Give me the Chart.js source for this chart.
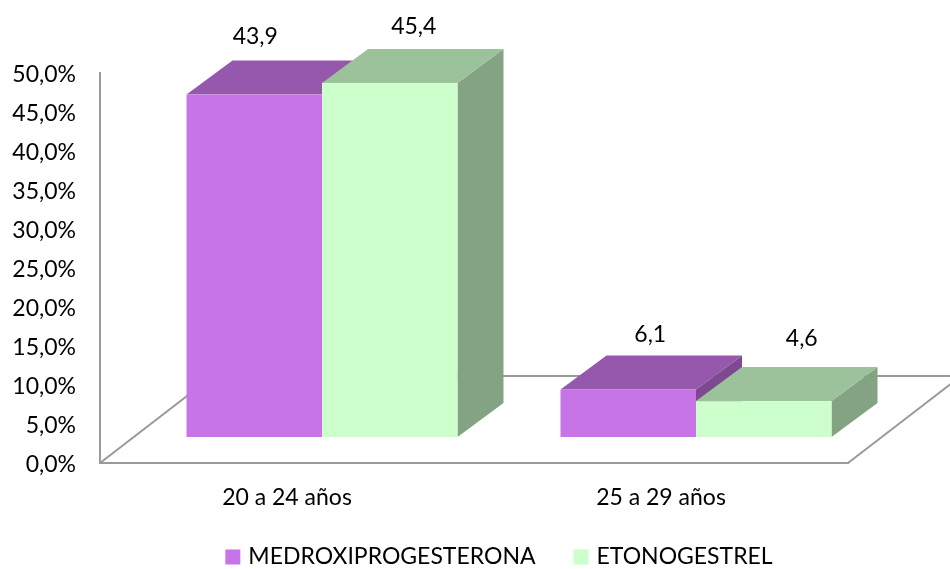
<!DOCTYPE html>
<html>
<head>
<meta charset="utf-8">
<script src="https://cdn.jsdelivr.net/npm/chart.js@4.4.1/dist/chart.umd.min.js"></script>
<style>
  html, body { margin: 0; padding: 0; background: #ffffff; }
  #wrap { width: 950px; height: 569px; }
</style>
</head>
<body>
<div id="wrap"><canvas id="chart" width="950" height="569"></canvas></div>
<script>
// Age groups and share (%) of users of each contraceptive
const categories = ['20 a 24 años', '25 a 29 años'];
const medroxiprogesterona = [43.9, 6.1];
const etonogestrel = [45.4, 4.6];
const seriesNames = ['MEDROXIPROGESTERONA', 'ETONOGESTREL'];
const yTicks = { min: 0, max: 50, step: 5 };

const FONT = 'Lato, "Open Sans", sans-serif';
const FONT_SIZE = 23;
const fmt1 = v => v.toFixed(1).replace('.', ',');

// Face colours for the boxes: front, top, side
const faces = [
  { front: '#C775E6', top: '#9558AD', side: '#7D4991' },
  { front: '#CCFFCC', top: '#9BC29B', side: '#83A383' }
];

// Draws the floor and the bars as oblique 3D boxes from the bar elements
const box3d = {
  id: 'box3d',
  beforeDatasetsDraw(chart, args, opts) {
    const { ctx, chartArea: a } = chart;
    const fd = opts.floorDepth, sh = opts.barShift, d = opts.depth;

    ctx.save();
    ctx.strokeStyle = opts.lineColor;
    ctx.lineWidth = 2;
    ctx.beginPath();
    ctx.moveTo(a.left, a.bottom);
    ctx.lineTo(a.left + fd.dx, a.bottom + fd.dy);
    ctx.lineTo(a.right + fd.dx, a.bottom + fd.dy);
    ctx.moveTo(a.right, a.bottom);
    ctx.lineTo(a.right + fd.dx, a.bottom + fd.dy);
    ctx.stroke();

    const n = chart.data.labels.length;
    for (let i = 0; i < n; i++) {
      chart.data.datasets.forEach((ds, di) => {
        const el = chart.getDatasetMeta(di).data[i];
        const c = faces[di];
        const l = el.x - el.width / 2 + sh.dx;
        const r = el.x + el.width / 2 + sh.dx;
        const t = el.y + sh.dy;
        const b = el.base + sh.dy;
        // side
        ctx.fillStyle = c.side;
        ctx.beginPath();
        ctx.moveTo(r, t); ctx.lineTo(r + d.dx, t + d.dy);
        ctx.lineTo(r + d.dx, b + d.dy); ctx.lineTo(r, b);
        ctx.closePath(); ctx.fill();
        // top
        ctx.fillStyle = c.top;
        ctx.beginPath();
        ctx.moveTo(l, t); ctx.lineTo(l + d.dx, t + d.dy);
        ctx.lineTo(r + d.dx, t + d.dy); ctx.lineTo(r, t);
        ctx.closePath(); ctx.fill();
        // front
        ctx.fillStyle = c.front;
        ctx.fillRect(l, t, r - l, b - t);
      });
    }
    ctx.restore();
    return false;
  },
  afterDraw(chart, args, opts) {
    const { ctx } = chart;
    const sh = opts.barShift, d = opts.depth;
    ctx.save();
    ctx.font = FONT_SIZE + 'px ' + FONT;
    ctx.fillStyle = '#000000';
    ctx.textAlign = 'center';
    ctx.textBaseline = 'middle';
    // value labels above each box
    chart.data.datasets.forEach((ds, di) => {
      chart.getDatasetMeta(di).data.forEach((el, i) => {
        const nd = opts.nudges[di][i];
        const x = el.x + sh.dx + d.dx / 2 + nd[0];
        const y = el.y + sh.dy + d.dy - 21 + nd[1];
        ctx.fillText(fmt1(ds.data[i]), x, y);
      });
    });
    // legend
    const lg = opts.legend;
    ctx.textAlign = 'left';
    const widths = chart.data.datasets.map(ds => ctx.measureText(ds.label).width);
    const total = widths.reduce((s, w) => s + lg.box + lg.gap + w, 0) + lg.spacing * (widths.length - 1);
    let x = lg.centerX - total / 2;
    chart.data.datasets.forEach((ds, di) => {
      ctx.fillStyle = faces[di].front;
      ctx.fillRect(x, lg.y - lg.box / 2, lg.box, lg.box);
      ctx.fillStyle = '#000000';
      ctx.fillText(ds.label, x + lg.box + lg.gap, lg.y);
      x += lg.box + lg.gap + widths[di] + lg.spacing;
    });
    ctx.restore();
  }
};

new Chart(document.getElementById('chart'), {
  type: 'bar',
  data: {
    labels: categories,
    datasets: [
      { label: seriesNames[0], data: medroxiprogesterona, backgroundColor: faces[0].front },
      { label: seriesNames[1], data: etonogestrel, backgroundColor: faces[1].front }
    ]
  },
  options: {
    responsive: false,
    animation: false,
    events: [],
    datasets: { bar: { categoryPercentage: 0.7246, barPercentage: 1 } },
    layout: { padding: { left: 0, right: 102, top: 73, bottom: 56 } },
    scales: {
      x: {
        grid: { display: false, drawTicks: false },
        border: { display: true, color: '#9a9a9a', width: 2 },
        ticks: { color: '#000000', font: { family: FONT, size: FONT_SIZE }, padding: 21, maxRotation: 0 },
        afterFit(scale) { scale.height = 50; }
      },
      y: {
        min: yTicks.min, max: yTicks.max,
        grid: { display: false, drawTicks: false },
        border: { display: true, color: '#9a9a9a', width: 2 },
        ticks: {
          stepSize: yTicks.step, color: '#000000', padding: 24, labelOffset: 2,
          font: { family: FONT, size: FONT_SIZE },
          callback: v => fmt1(v) + '%'
        },
        afterFit(scale) { scale.width = 100; }
      }
    },
    plugins: {
      legend: { display: false },
      tooltip: { enabled: false },
      box3d: {
        lineColor: '#9a9a9a',
        floorDepth: { dx: 113, dy: -87 },
        barShift: { dx: 35, dy: -26 },
        depth: { dx: 46, dy: -34 },
        nudges: [[[-22, -3], [-1, 0]], [[1, -1], [15, -8]]],
        legend: { centerX: 499, y: 557, box: 15, gap: 8, spacing: 38 }
      }
    }
  },
  plugins: [box3d]
});
</script>
</body>
</html>
